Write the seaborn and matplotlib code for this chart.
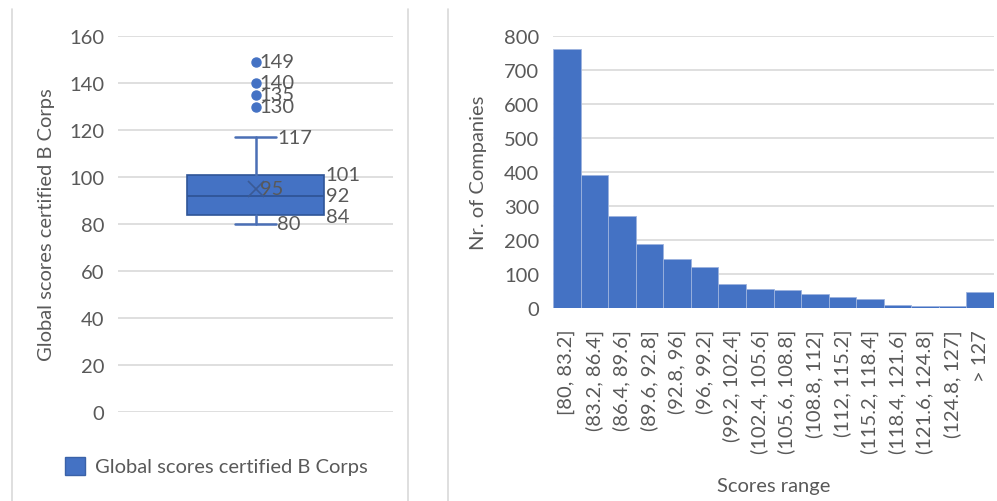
import matplotlib
matplotlib.use("Agg")
import matplotlib.pyplot as plt
from matplotlib.lines import Line2D
from matplotlib.patches import Patch
import seaborn as sns
import pandas as pd

# Box plot summary of global B Corp scores
q1, median, q3 = 84, 92, 101
mean_score = 95
whisker_low, whisker_high = 80, 117
outliers = [130, 135, 140, 149]

# Histogram of scores
score_bins = ["[80, 83.2]", "(83.2, 86.4]", "(86.4, 89.6]", "(89.6, 92.8]",
              "(92.8, 96]", "(96, 99.2]", "(99.2, 102.4]", "(102.4, 105.6]",
              "(105.6, 108.8]", "(108.8, 112]", "(112, 115.2]", "(115.2, 118.4]",
              "(118.4, 121.6]", "(121.6, 124.8]", "(124.8, 127]", "> 127"]
companies = [763, 392, 272, 189, 143, 120, 71, 57, 54, 41, 32, 27, 10, 6, 6, 46]

left_ticks = [0, 20, 40, 60, 80, 100, 120, 140, 160]
right_ticks = [0, 100, 200, 300, 400, 500, 600, 700, 800]

BLUE = "#4472C4"
DARK = "#2F5597"
TXT = "#595959"
GRID = "#D9D9D9"

sns.set_theme(style="white")
plt.rcParams["font.family"] = ["Lato", "DejaVu Sans"]
plt.rcParams["text.color"] = TXT
plt.rcParams["axes.labelcolor"] = TXT
plt.rcParams["xtick.color"] = TXT
plt.rcParams["ytick.color"] = TXT

FS = 14.5

fig = plt.figure(figsize=(9.97, 5.02), dpi=100)

# panel frames
for xpx in (12, 408, 448):
    fig.add_artist(Line2D([xpx / 997, xpx / 997], [0, 1 - 10 / 502],
                          color=GRID, lw=1.2, transform=fig.transFigure))

# ---------- left: box plot ----------
ax1 = fig.add_axes([118 / 997, 1 - 413 / 502, 275 / 997, 376 / 502])
stats = [dict(q1=q1, med=median, q3=q3, mean=mean_score,
              whislo=whisker_low, whishi=whisker_high, fliers=outliers)]
ax1.bxp(stats, positions=[0], widths=0.5, patch_artist=True, showmeans=True,
        boxprops=dict(facecolor=BLUE, edgecolor=DARK, linewidth=1.2),
        medianprops=dict(color=DARK, linewidth=1.3),
        whiskerprops=dict(color="#4A6FB5", linewidth=1.8),
        capprops=dict(color="#4A6FB5", linewidth=1.8),
        capwidths=0.15,
        meanprops=dict(marker="x", markersize=11, markeredgecolor="#3A5A96",
                       markeredgewidth=1.2),
        flierprops=dict(marker="o", markersize=6.5, markerfacecolor=BLUE,
                        markeredgecolor=BLUE))
ax1.set_xlim(-0.5, 0.5)
ax1.set_ylim(0, 160)
ax1.set_yticks(left_ticks)
ax1.set_xticks([])
ax1.grid(axis="y", color=GRID, linewidth=1.2)
ax1.set_axisbelow(True)
for s in ax1.spines.values():
    s.set_visible(False)
ax1.tick_params(axis="y", length=0, labelsize=FS, pad=10)
ax1.set_ylabel("Global scores certified B Corps", fontsize=FS, labelpad=10)

lab = dict(fontsize=FS, color=TXT, va="center", ha="left")
for v in outliers:
    ax1.text(0.015, v, str(v), **lab)
ax1.text(0.08, whisker_high, str(whisker_high), **lab)
ax1.text(0.08, whisker_low, str(whisker_low), **lab)
ax1.text(0.255, q3, str(q3), **lab)
ax1.text(0.255, median, str(median), **lab)
ax1.text(0.255, q1 - 1, str(q1), **lab)
ax1.text(0.015, mean_score, str(mean_score), **lab)

fig.legend(handles=[Patch(facecolor=BLUE, edgecolor="#3A62A8", label="Global scores certified B Corps")],
           loc="center left", bbox_to_anchor=(47 / 997, 1 - 467 / 502),
           frameon=False, fontsize=FS, handlelength=1.0, handleheight=1.0,
           handletextpad=0.5)

# ---------- right: histogram ----------
ax2 = fig.add_axes([553 / 997, 1 - 309 / 502, 441 / 997, 272 / 502])
df = pd.DataFrame({"range": score_bins, "count": companies})
sns.barplot(data=df, x="range", y="count", ax=ax2, color=BLUE, width=1.0,
            edgecolor="#9DB3DE", linewidth=0.6, saturation=1)
ax2.set_xlim(-0.5, len(score_bins) - 0.5)
ax2.set_ylim(0, 800)
ax2.set_yticks(right_ticks)
ax2.grid(axis="y", color=GRID, linewidth=1.2)
ax2.set_axisbelow(True)
for s in ax2.spines.values():
    s.set_visible(False)
ax2.tick_params(axis="y", length=0, labelsize=FS, pad=10)
ax2.tick_params(axis="x", length=0, labelsize=FS, pad=15)
plt.setp(ax2.get_xticklabels(), rotation=90)
ax2.set_xlabel("Scores range", fontsize=FS, labelpad=17)
ax2.set_ylabel("Nr. of Companies", fontsize=FS, labelpad=12)

fig.savefig("out.png", dpi=100, facecolor="white")
